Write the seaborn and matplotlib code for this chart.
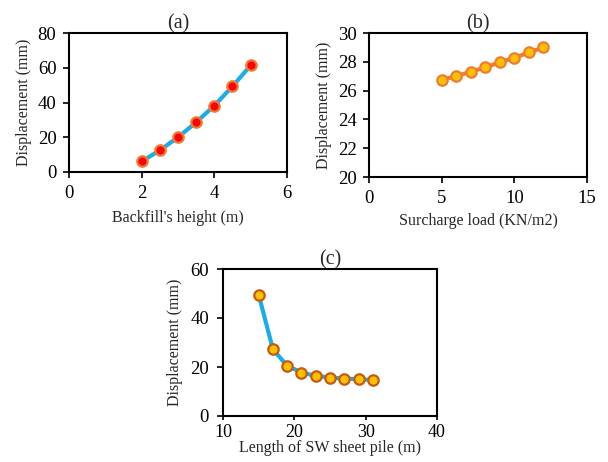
import matplotlib
matplotlib.use("Agg")
import matplotlib.pyplot as plt
import seaborn as sns
import pandas as pd

sns.set_style("ticks")
plt.rcParams['font.family'] = ['Liberation Serif', 'DejaVu Serif']
plt.rcParams['font.size'] = 11

# (a)
height_m = [2, 2.5, 3, 3.5, 4, 4.5, 5]
disp_a = [6.1, 12.5, 20.0, 28.6, 38.2, 49.3, 61.4]
# (b)
surcharge = [5, 6, 7, 8, 9, 10, 11, 12]
disp_b = [26.75, 27.0, 27.31, 27.61, 27.96, 28.28, 28.65, 29.0]
# (c)
pile_len = [15, 17, 19, 21, 23, 25, 27, 29, 31]
disp_c = [49.5, 27.2, 20.5, 17.7, 16.4, 15.7, 15.3, 15.0, 14.7]

fig = plt.figure(figsize=(6.08, 4.62), dpi=100)
W, H = 608, 462

def add_ax(l, r, t, b):
    return fig.add_axes([l / W, 1 - b / H, (r - l) / W, (b - t) / H])

axa = add_ax(69, 287, 33, 172)
axb = add_ax(369, 587, 33, 177)
axc = add_ax(223, 437, 269, 416)

def draw(ax, x, y, lc, mfc, mec, xlim, xticks, ylim, yticks, xlabel, title):
    df = pd.DataFrame({"x": x, "y": y})
    sns.lineplot(data=df, x="x", y="y", ax=ax, color=lc, linewidth=3,
                 marker="o", markersize=7.5, markerfacecolor=mfc,
                 markeredgecolor=mec, markeredgewidth=1.6)
    ax.set_xlim(*xlim)
    ax.set_ylim(*ylim)
    ax.set_xticks(xticks)
    ax.set_yticks(yticks)
    ax.set_xlabel(xlabel, fontsize=11.5, labelpad=6)
    ax.set_ylabel("Displacement (mm)", fontsize=11.5, labelpad=4)
    ax.set_title(title, fontsize=14.5, pad=2)
    for s in ax.spines.values():
        s.set_color("black")
        s.set_linewidth(1.5)
        s.set_visible(True)
    ax.tick_params(direction="out", length=4, width=1.2, labelsize=13.5,
                   colors="black", pad=5)

draw(axa, height_m, disp_a, "#1AADE8", "#FF0000", "#ED7D31",
     (0, 6), [0, 2, 4, 6], (0, 80), [0, 20, 40, 60, 80],
     "Backfill's height (m)", "(a)")
draw(axb, surcharge, disp_b, "#ED7D31", "#FFC000", "#ED7D31",
     (0, 15), [0, 5, 10, 15], (20, 30), [20, 22, 24, 26, 28, 30],
     "Surcharge load (KN/m2)", "(b)")
draw(axc, pile_len, disp_c, "#1AADE8", "#FFC000", "#C55A11",
     (10, 40), [10, 20, 30, 40], (0, 60), [0, 20, 40, 60],
     "Length of SW sheet pile (m)", "(c)")
axb.xaxis.labelpad = 5
axc.tick_params(axis="x", labelsize=13, pad=3, length=3)
axc.tick_params(axis="y", labelsize=13.5, pad=6)
axc.xaxis.labelpad = -1
axc.yaxis.labelpad = 5

fig.savefig("out.png", dpi=100)
